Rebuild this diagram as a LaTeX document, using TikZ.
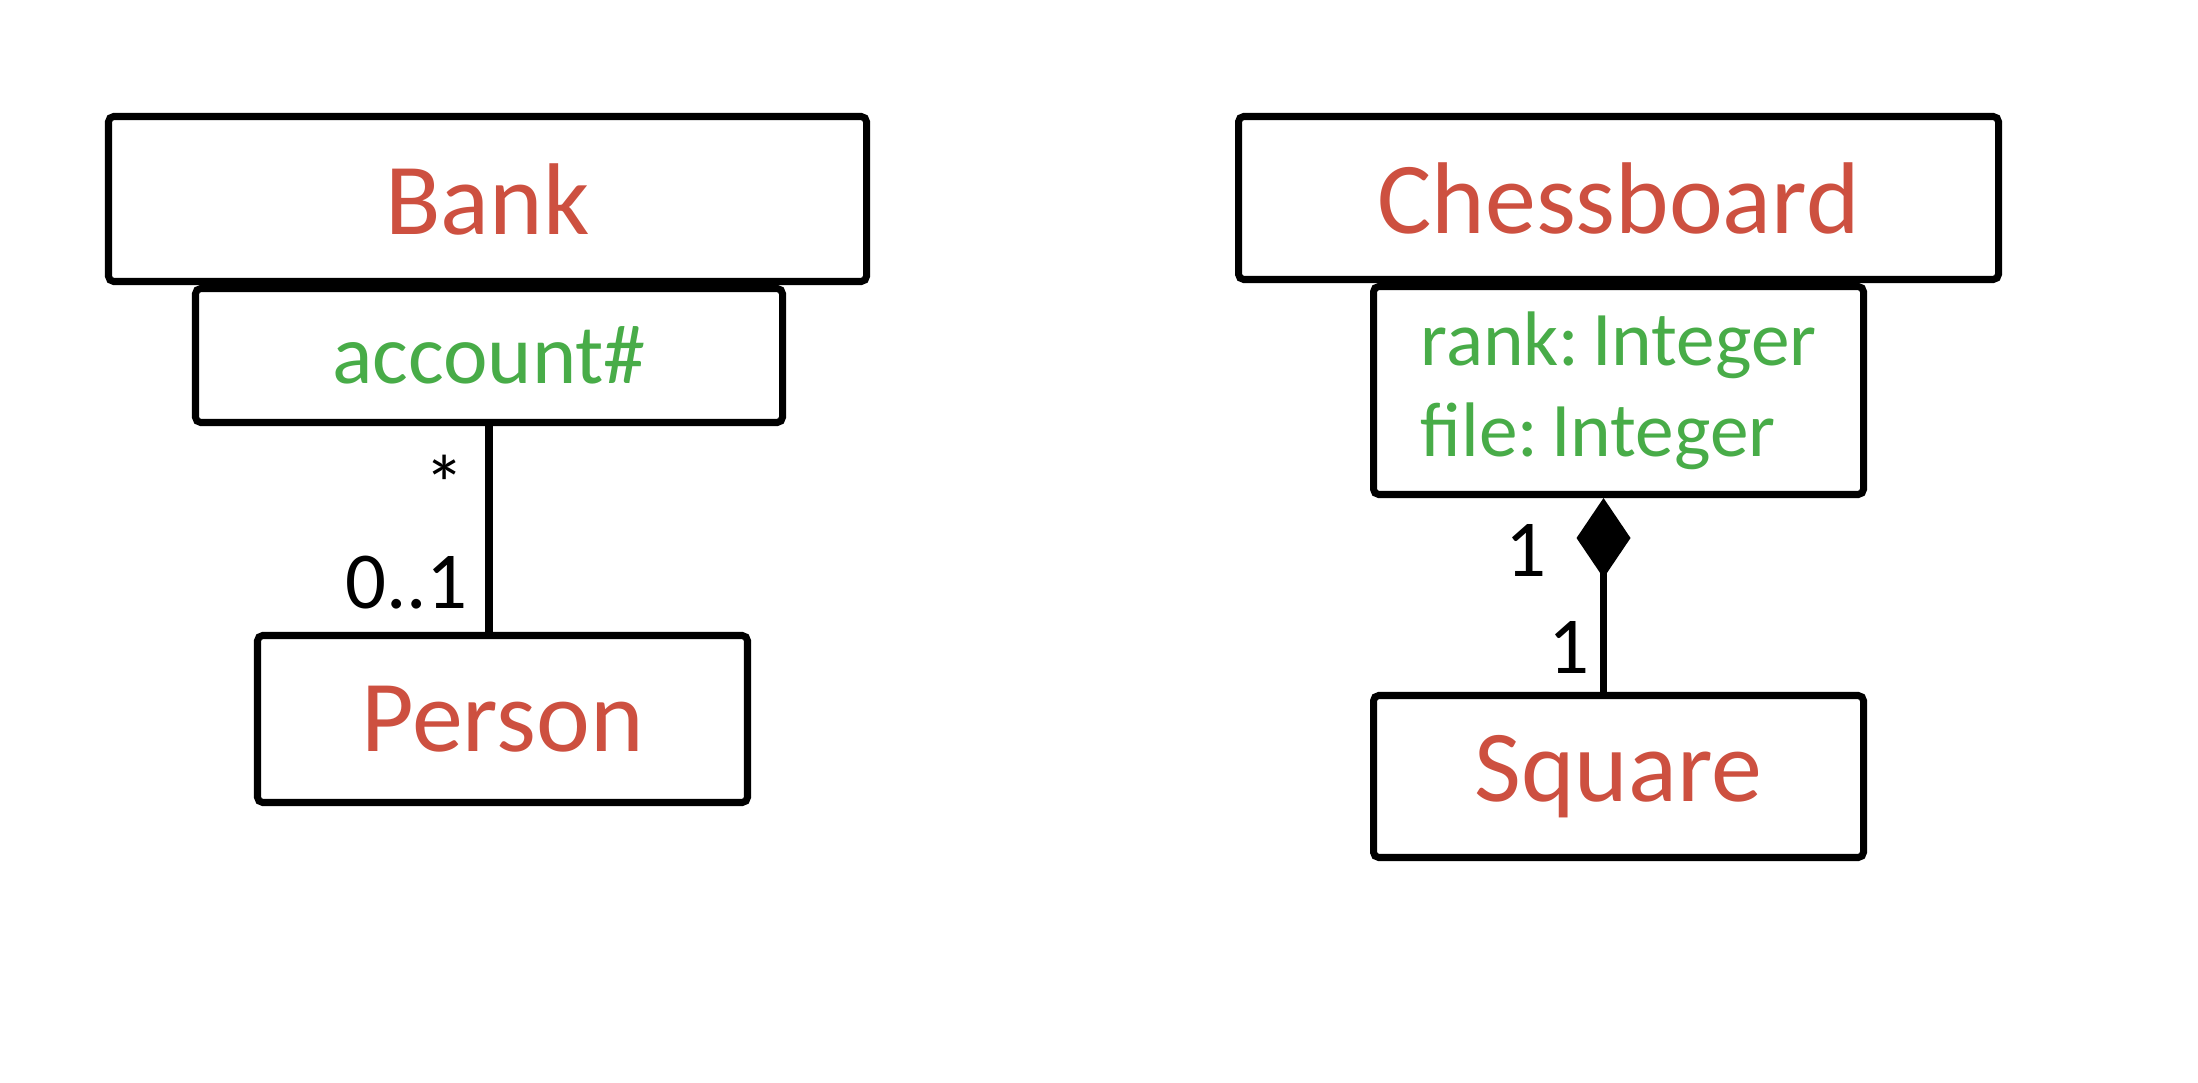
\documentclass[tikz,border=0pt]{standalone}
\usepackage{fontspec}
\setmainfont{Carlito}
\usetikzlibrary{arrows.meta}
\definecolor{clsred}{RGB}{205,80,64}
\definecolor{attrgreen}{RGB}{72,172,72}
\tikzset{
	classbox/.style={draw, line width=2pt, rounded corners=1.5pt, fill=white, text=clsred, font=\fontsize{29}{34}\selectfont, minimum width=#1},
	attrbox/.style={draw, line width=2pt, rounded corners=1.5pt, fill=white, text=attrgreen, font=\fontsize{24}{26}\selectfont, align=left, minimum width=#1},
	mult/.style={font=\fontsize{23}{26}\selectfont, inner sep=1pt},
	link/.style={line width=2pt}
}

\begin{document}
\begin{tikzpicture}
			%%%%% START %%%%%
			\useasboundingbox (0, 0) rectangle (21.98, 10.82);
			
			% qualified association
			\node[attrbox=5.87cm, minimum height=1.34cm] (acct) at (4.89, 7.265) {account\#};
			\node[classbox=7.58cm, minimum height=1.65cm] (bank) at (4.875, 8.83) {Bank};
			\node[classbox=4.90cm, minimum height=1.67cm] (person) at (5.025, 3.63) {Person};
			\draw[link] (acct.south) -- (acct.south |- person.north)
				node[mult, pos=0.28, left=5pt] {*}
				node[mult, pos=0.76, left=4pt] {0..1};
			
			% qualified composition
			\node[attrbox=4.90cm, minimum height=2.08cm, font=\fontsize{22}{26}\selectfont] (pos) at (16.185, 6.915) {rank:\,Integer\\file:\,Integer};
			\node[classbox=7.60cm, minimum height=1.63cm] (board) at (16.185, 8.84) {Chessboard};
			\node[classbox=4.90cm, minimum height=1.62cm] (square) at (16.185, 3.055) {Square};
			\draw[link, {Diamond[length=8mm, width=5.4mm]}-] ([xshift=-1.5mm]pos.south) -- ([xshift=-1.5mm]square.north)
				node[mult, pos=0.27, left=5mm] {1}
				node[mult, pos=0.77, left=2pt] {1};
			
			%%%%% END %%%%%
		\end{tikzpicture}
\end{document}
